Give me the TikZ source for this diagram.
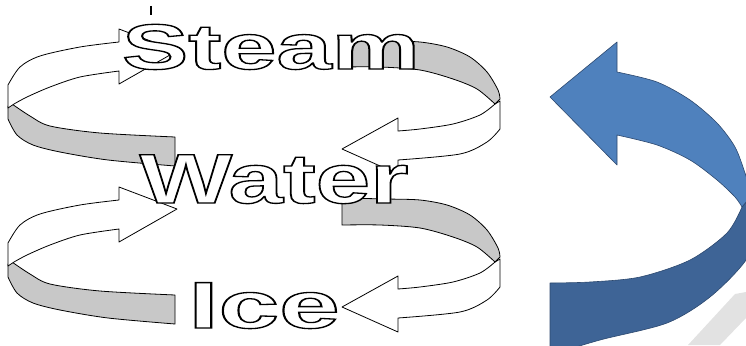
\documentclass[tikz,border=0pt]{standalone}
\usepackage{fontspec}
\newfontfamily\wordfont{Liberation Sans}
% hollow letters: fill white, stroke black
\newcommand{\hollowword}[1]{\special{pdf:literal direct 2 Tr 1.3 w 0 G}#1\special{pdf:literal direct 0 Tr}}
\definecolor{tailgray}{RGB}{200,200,200}
\definecolor{bluefront}{RGB}{79,129,189}
\definecolor{blueback}{RGB}{62,100,150}
\definecolor{blueedge}{RGB}{44,72,110}
\definecolor{shadowgray}{RGB}{226,226,226}

\begin{document}
\begin{tikzpicture}[x=1pt, y=-1pt,
    word/.style={anchor=base, inner sep=0pt, text=white,
      font=\wordfont\bfseries\fontsize{#1}{#1}\selectfont},
    tail/.style={fill=tailgray, draw=black, line width=0.8pt, line join=round},
    head/.style={fill=white, draw=black, line width=0.8pt, line join=round},
    bigarrow/.style={draw=blueedge, line width=0.6pt, line join=round}
    ]
    \useasboundingbox (0,0) rectangle (746,345);

    % faint stroke in the corner
    \fill[shadowgray] (688,345) -- (735,294) -- (746,292) -- (746,318) -- (720,345) -- cycle;

    % big u-turn arrow, cut by the margin
    \begin{scope}
    \clip (0,0) rectangle (746,345);
    \filldraw[bigarrow, fill=blueback] (742,207) -- plot[smooth] coordinates {(742,207) (727,233) (690,260) (640,277) (590,282) (550,283)}
      -- (550,355) -- plot[smooth] coordinates {(550,355) (600,340) (667,323) (710,297) (746,260) (758,225)} -- (752,195) -- cycle;
    \filldraw[bigarrow, fill=bluefront] (550,97) -- (617,42) -- (617,72)
      -- plot[smooth] coordinates {(617,72) (657,82) (690,100) (717,123) (735,147) (745,173) (752,195)} -- (742,207)
      -- plot[smooth] coordinates {(742,207) (735,197) (717,180) (690,160) (657,145) (617,135)} -- (617,165) -- cycle;
    \end{scope}

    % the two ring arrows
    \foreach \dy in {0,158}{
    \begin{scope}[shift={(0,\dy)}]
      % left: tail in front, head behind
      \filldraw[tail] (12,104) -- plot[smooth] coordinates {(12,104) (30,116) (50,126) (100,133) (175,137)} -- (175,166)
        -- plot[smooth] coordinates {(175,166) (108,160) (60,152) (33,145) (17,135) (8,119)} -- (8,106) -- cycle;
      \filldraw[head] (8,108) -- plot[smooth] coordinates {(8,85) (20,67) (40,56) (80,47) (119,42)} -- (119,29) -- (177,51) -- (119,84) -- (119,71)
        -- plot[smooth] coordinates {(119,71) (80,77) (50,87) (27,97) (14,104)} -- cycle;
      % right: head in front, tail behind
      \filldraw[head] (495,104) -- plot[smooth] coordinates {(495,104) (480,115) (453,124) (420,129) (398,131)} -- (398,118) -- (342,149) -- (398,174) -- (398,160)
        -- plot[smooth] coordinates {(398,160) (460,154) (487,142) (500,129)} -- (500,101) -- cycle;
      \filldraw[tail] (342,40) -- plot[smooth] coordinates {(342,40) (387,41) (420,42) (447,47) (470,57) (487,72) (498,90) (500,99)} -- (495,104)
        -- plot[smooth] coordinates {(495,104) (477,89) (453,79) (420,70) (380,67) (342,67)} -- cycle;
    \end{scope}
    }

    \draw[line width=2pt] (151,6) -- (151,15);

    \node[word=64] (steam) at (271,69) {\scalebox{1.55}[1]{\hollowword{Steam}}};
    \node[word=70] (water) at (274,203) {\scalebox{1.4}[1]{\hollowword{Water}}};
    \node[word=66] (ice) at (264,328) {\scalebox{1.65}[1]{\hollowword{Ice}}};

\end{tikzpicture}
\end{document}
